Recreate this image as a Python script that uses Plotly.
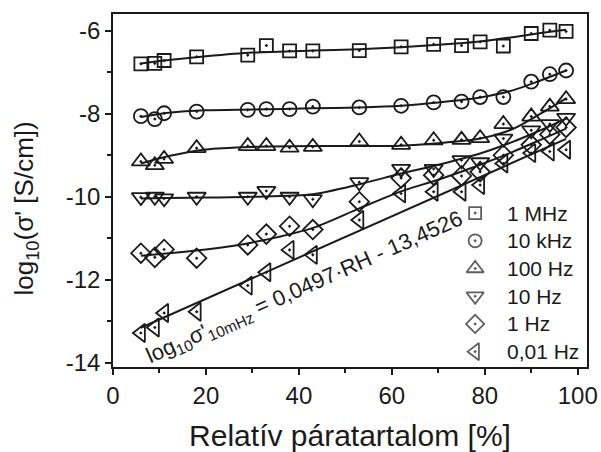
import plotly.graph_objects as go

# ---- data ----
rh = [6, 9, 11, 18, 29, 33, 38, 43, 53, 62, 69, 75, 79, 84, 90, 94, 97.5]

s_1mhz = [-6.80, -6.79, -6.72, -6.63, -6.59, -6.36, -6.49, -6.49, -6.48, -6.39,
          -6.33, -6.36, -6.27, -6.37, -6.07, -5.99, -6.02]
s_10khz = [-8.06, -8.13, -7.99, -7.95, -7.91, -7.89, -7.89, -7.83, -7.85, -7.81,
           -7.73, -7.71, -7.60, -7.60, -7.23, -7.05, -6.96]
s_100hz = [-9.15, -9.24, -9.09, -8.83, -8.78, -8.78, -8.82, -8.80, -8.67, -8.75,
           -8.64, -8.63, -8.59, -8.25, -8.07, -7.83, -7.65]
s_10hz = [-10.01, -10.00, -10.04, -10.00, -10.00, -9.86, -10.00, -10.06, -9.65, -9.33,
          -9.33, -9.12, -9.17, -8.60, -8.40, -8.25, -8.10]
s_1hz = [-11.36, -11.46, -11.27, -11.48, -11.16, -10.90, -10.71, -10.79, -10.12, -9.55,
         -9.48, -9.50, -9.40, -9.00, -8.75, -8.50, -8.33]
s_001hz = [-13.28, -13.15, -12.80, -12.77, -12.14, -11.82, -11.28, -11.40, -10.56, -9.92,
           -9.88, -9.88, -9.72, -9.20, -8.95, -8.91, -8.87]

# fitted curves
fit_x = [6, 12, 20, 30, 43, 53, 62, 70, 79, 86, 92, 97.5]
fit_1mhz = [-6.79, -6.71, -6.62, -6.53, -6.48, -6.45, -6.40, -6.34, -6.26, -6.16, -6.06, -5.98]
fit_10khz = [-8.08, -7.98, -7.92, -7.90, -7.87, -7.85, -7.81, -7.73, -7.61, -7.44, -7.20, -6.96]
fit_100hz = [-9.20, -9.02, -8.86, -8.80, -8.78, -8.78, -8.77, -8.71, -8.60, -8.37, -8.00, -7.63]
fit_10hz = [-10.04, -10.03, -10.02, -10.00, -9.94, -9.70, -9.44, -9.23, -8.96, -8.68, -8.40, -8.12]
fit_1hz = [-11.42, -11.36, -11.27, -11.10, -10.75, -10.28, -9.87, -9.59, -9.23, -8.92, -8.63, -8.36]
# linear fit of the 0.01 Hz series (as printed on the chart)
lin_slope = 0.0497
lin_icpt = -13.4526

names = ["1 MHz", "10 kHz", "100 Hz", "10 Hz", "1 Hz", "0,01 Hz"]
symbols = ["square-open-dot", "circle-open-dot", "triangle-up-open-dot",
           "triangle-down-open-dot", "diamond-open-dot", "triangle-left-open-dot"]
sizes = [13, 14, 16, 16, 15, 16]
series = [s_1mhz, s_10khz, s_100hz, s_10hz, s_1hz, s_001hz]
fits = [fit_1mhz, fit_10khz, fit_100hz, fit_10hz, fit_1hz]

x_ticks = [0, 20, 40, 60, 80, 100]
y_ticks = [-14, -12, -10, -8, -6]
y_ticktext = ["-14", "-12", "-10", "-8", "-6"]

FONT = "Liberation Sans, Arial, sans-serif"
INK = "#1a1a1a"

# legend layout (fractions of the plot area)
LEG_SYM_X = 0.764
LEG_TXT_X = 0.826
LEG_TOP = 0.436
LEG_STEP = 0.0785

fig = go.Figure()

for f in fits:
    fig.add_trace(go.Scatter(x=fit_x, y=f, mode="lines",
                             line=dict(color=INK, width=2, shape="spline", smoothing=0.8),
                             showlegend=False, hoverinfo="skip"))
lin_x = [rh[0], rh[-1]]
fig.add_trace(go.Scatter(x=lin_x, y=[lin_slope * v + lin_icpt for v in lin_x], mode="lines",
                         line=dict(color=INK, width=2), showlegend=False, hoverinfo="skip"))

for name, sym, sz, ys in zip(names, symbols, sizes, series):
    fig.add_trace(go.Scatter(x=rh, y=ys, mode="markers", name=name, showlegend=False,
                             marker=dict(symbol=sym, size=sz, color=INK,
                                         line=dict(color=INK, width=1.8))))

# legend keys drawn on an overlay axis spanning the plot area
leg_y = [LEG_TOP - i * LEG_STEP for i in range(len(names))]
fig.add_trace(go.Scatter(x=[LEG_SYM_X] * len(names), y=leg_y, xaxis="x2", yaxis="y2",
                         mode="markers", showlegend=False, hoverinfo="skip",
                         marker=dict(symbol=symbols, size=[s - 1 for s in sizes], color=INK,
                                     line=dict(color=INK, width=1.8))))
for name, yy in zip(names, leg_y):
    fig.add_annotation(x=LEG_TXT_X, y=yy, xref="paper", yref="paper", xanchor="left",
                       yanchor="middle", showarrow=False, text=name,
                       font=dict(family=FONT, size=21, color=INK))

fig.add_annotation(x=41.3, y=-12.2, xref="x", yref="y", showarrow=False, textangle=-24,
                   xanchor="center", yanchor="middle",
                   text="log<sub>10</sub>σ'<sub>10mHz</sub> = 0,0497·RH - 13,4526",
                   font=dict(family=FONT, size=22, color=INK))

fig.add_annotation(x=-0.185, y=0.45, xref="paper", yref="paper", showarrow=False, textangle=-90,
                   xanchor="center", yanchor="middle",
                   text="log<sub>10</sub>(σ' [S/cm])", font=dict(family=FONT, size=26, color=INK))

fig.update_layout(
    width=601, height=452,
    margin=dict(l=113, r=14, t=14, b=85),
    paper_bgcolor="white", plot_bgcolor="white",
    font=dict(family=FONT, color=INK),
    showlegend=False,
    hovermode=False,
    xaxis=dict(range=[0, 102], tickmode="array", tickvals=x_ticks, ticks="outside", ticklen=6,
               tickwidth=1.5, tickcolor=INK, showline=True, linecolor=INK, linewidth=1.5,
               mirror=True, showgrid=False, zeroline=False, automargin=False,
               tickfont=dict(family=FONT, size=24, color=INK),
               minor=dict(tickmode="linear", tick0=0, dtick=10, ticks="outside", ticklen=4,
                          tickwidth=1.5, tickcolor=INK, showgrid=False),
               title=dict(text="Relatív páratartalom [%]", standoff=18,
                          font=dict(family=FONT, size=30, color=INK))),
    yaxis=dict(range=[-14.1, -5.6], tickmode="array", tickvals=y_ticks, ticktext=y_ticktext,
               ticks="outside", ticklen=6, tickwidth=1.5, tickcolor=INK, showline=True,
               linecolor=INK, linewidth=1.5, mirror=True, showgrid=False, zeroline=False,
               automargin=False, tickfont=dict(family=FONT, size=24, color=INK),
               minor=dict(tickmode="linear", tick0=0, dtick=1, ticks="outside", ticklen=4,
                          tickwidth=1.5, tickcolor=INK, showgrid=False)),
    xaxis2=dict(overlaying="x", range=[0, 1], visible=False, fixedrange=True),
    yaxis2=dict(overlaying="y", range=[0, 1], visible=False, fixedrange=True),
)

fig.write_html("out.html", config={"displayModeBar": False},
               post_script="document.body.style.margin='0';document.body.style.padding='0';")
